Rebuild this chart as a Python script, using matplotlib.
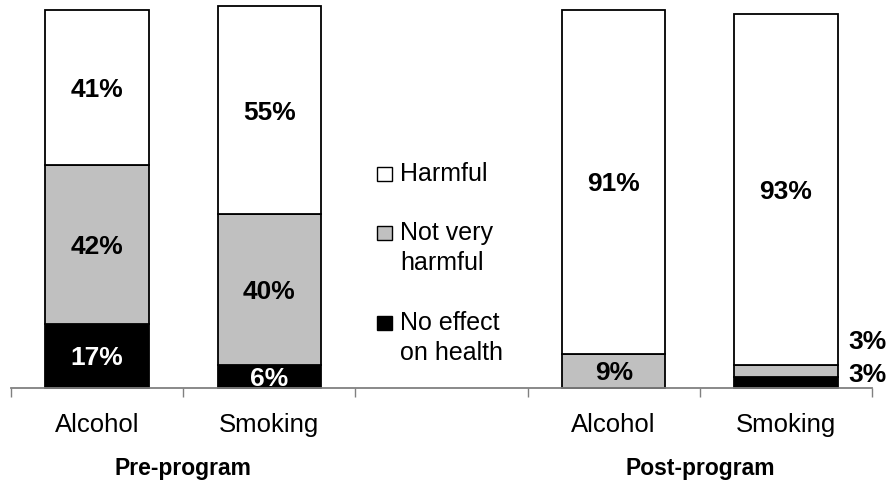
import matplotlib
matplotlib.use("Agg")
import matplotlib.pyplot as plt
import matplotlib.transforms as mtransforms
from matplotlib.patches import Rectangle
import numpy as np

plt.rcParams['font.family'] = ['Liberation Sans', 'DejaVu Sans']

# ---- data ----
categories = ["Alcohol", "Smoking", "Alcohol", "Smoking"]
groups = ["Pre-program", "Post-program"]
series = ["No effect\non health", "Not very\nharmful", "Harmful"]
no_effect = [17, 6, 0, 3]
not_very = [42, 40, 9, 3]
harmful = [41, 55, 91, 93]

# ---- layout ----
W, H = 886, 482
fig = plt.figure(figsize=(W / 100, H / 100), dpi=100)

def fx(px):
    return px / W

def fy(py):
    return 1 - py / H

ax = fig.add_axes([fx(11), fy(388), fx(872) - fx(11), fy(10) - fy(388)])
positions = np.array([0, 1, 3, 4])
colors = ["black", "#c0c0c0", "white"]
values = [no_effect, not_very, harmful]

bottom = np.zeros(len(positions))
for vals, col in zip(values, colors):
    vals = np.array(vals, dtype=float)
    ax.bar(positions, vals, width=0.6, bottom=bottom, color=col,
           edgecolor="black", linewidth=1.3, clip_on=False, zorder=2)
    bottom += vals

ax.set_xlim(-0.5, 4.5)
ax.set_ylim(0, 100)

# segment labels
label_font = dict(fontsize=19, fontweight="bold", ha="center",
                  va="center_baseline")
outside_y = [4.2, 12.7]
for i, p in enumerate(positions):
    base = 0.0
    small = []
    for vals, col in zip(values, colors):
        v = vals[i]
        if v > 0:
            txt = f"{v}%"
            if v >= 5:
                tc = "white" if col == "black" else "black"
                ax.text(p, base + v / 2, txt, color=tc, zorder=3, **label_font)
            else:
                small.append(txt)
        base += v
    for k, txt in enumerate(small):
        ax.text(p + 0.36, outside_y[k], txt, fontsize=19, fontweight="bold",
                ha="left", va="center_baseline", color="black")

# axis styling
for s in ["left", "right", "top"]:
    ax.spines[s].set_visible(False)
ax.spines["bottom"].set_color("#808080")
ax.spines["bottom"].set_linewidth(1.3)
ax.set_yticks([])
ax.set_xticks(np.arange(-0.5, 5.0, 1.0))
ax.set_xticklabels([])
ax.tick_params(axis="x", direction="out", length=6.5, width=1,
               color="#808080")

# category and group labels
blend = mtransforms.blended_transform_factory(ax.transData, fig.transFigure)
for p, c in zip(positions, categories):
    ax.text(p, fy(432), c, transform=blend, fontsize=18.5, ha="center",
            va="baseline")
group_centers = [positions[:2].mean(), positions[2:].mean()]
for gc, g in zip(group_centers, groups):
    ax.text(gc, fy(475), g, transform=blend, fontsize=16.5,
            fontweight="bold", ha="center", va="baseline")

# legend, entries listed top to bottom
legend_rows = [("Harmful", "white", 181),
               ("Not very\nharmful", "#c0c0c0", 240),
               ("No effect\non health", "black", 330)]
for text, col, base_px in legend_rows:
    fig.patches.append(Rectangle((fx(377), fy(base_px)), fx(392) - fx(377),
                                 fy(base_px - 14) - fy(base_px),
                                 transform=fig.transFigure, facecolor=col,
                                 edgecolor="black", linewidth=1.0))
    lines = text.split("\n")
    for j, line in enumerate(lines):
        fig.text(fx(400), fy(base_px + 30 * j), line, fontsize=18,
                 ha="left", va="baseline")

fig.savefig("out.png", dpi=100)
